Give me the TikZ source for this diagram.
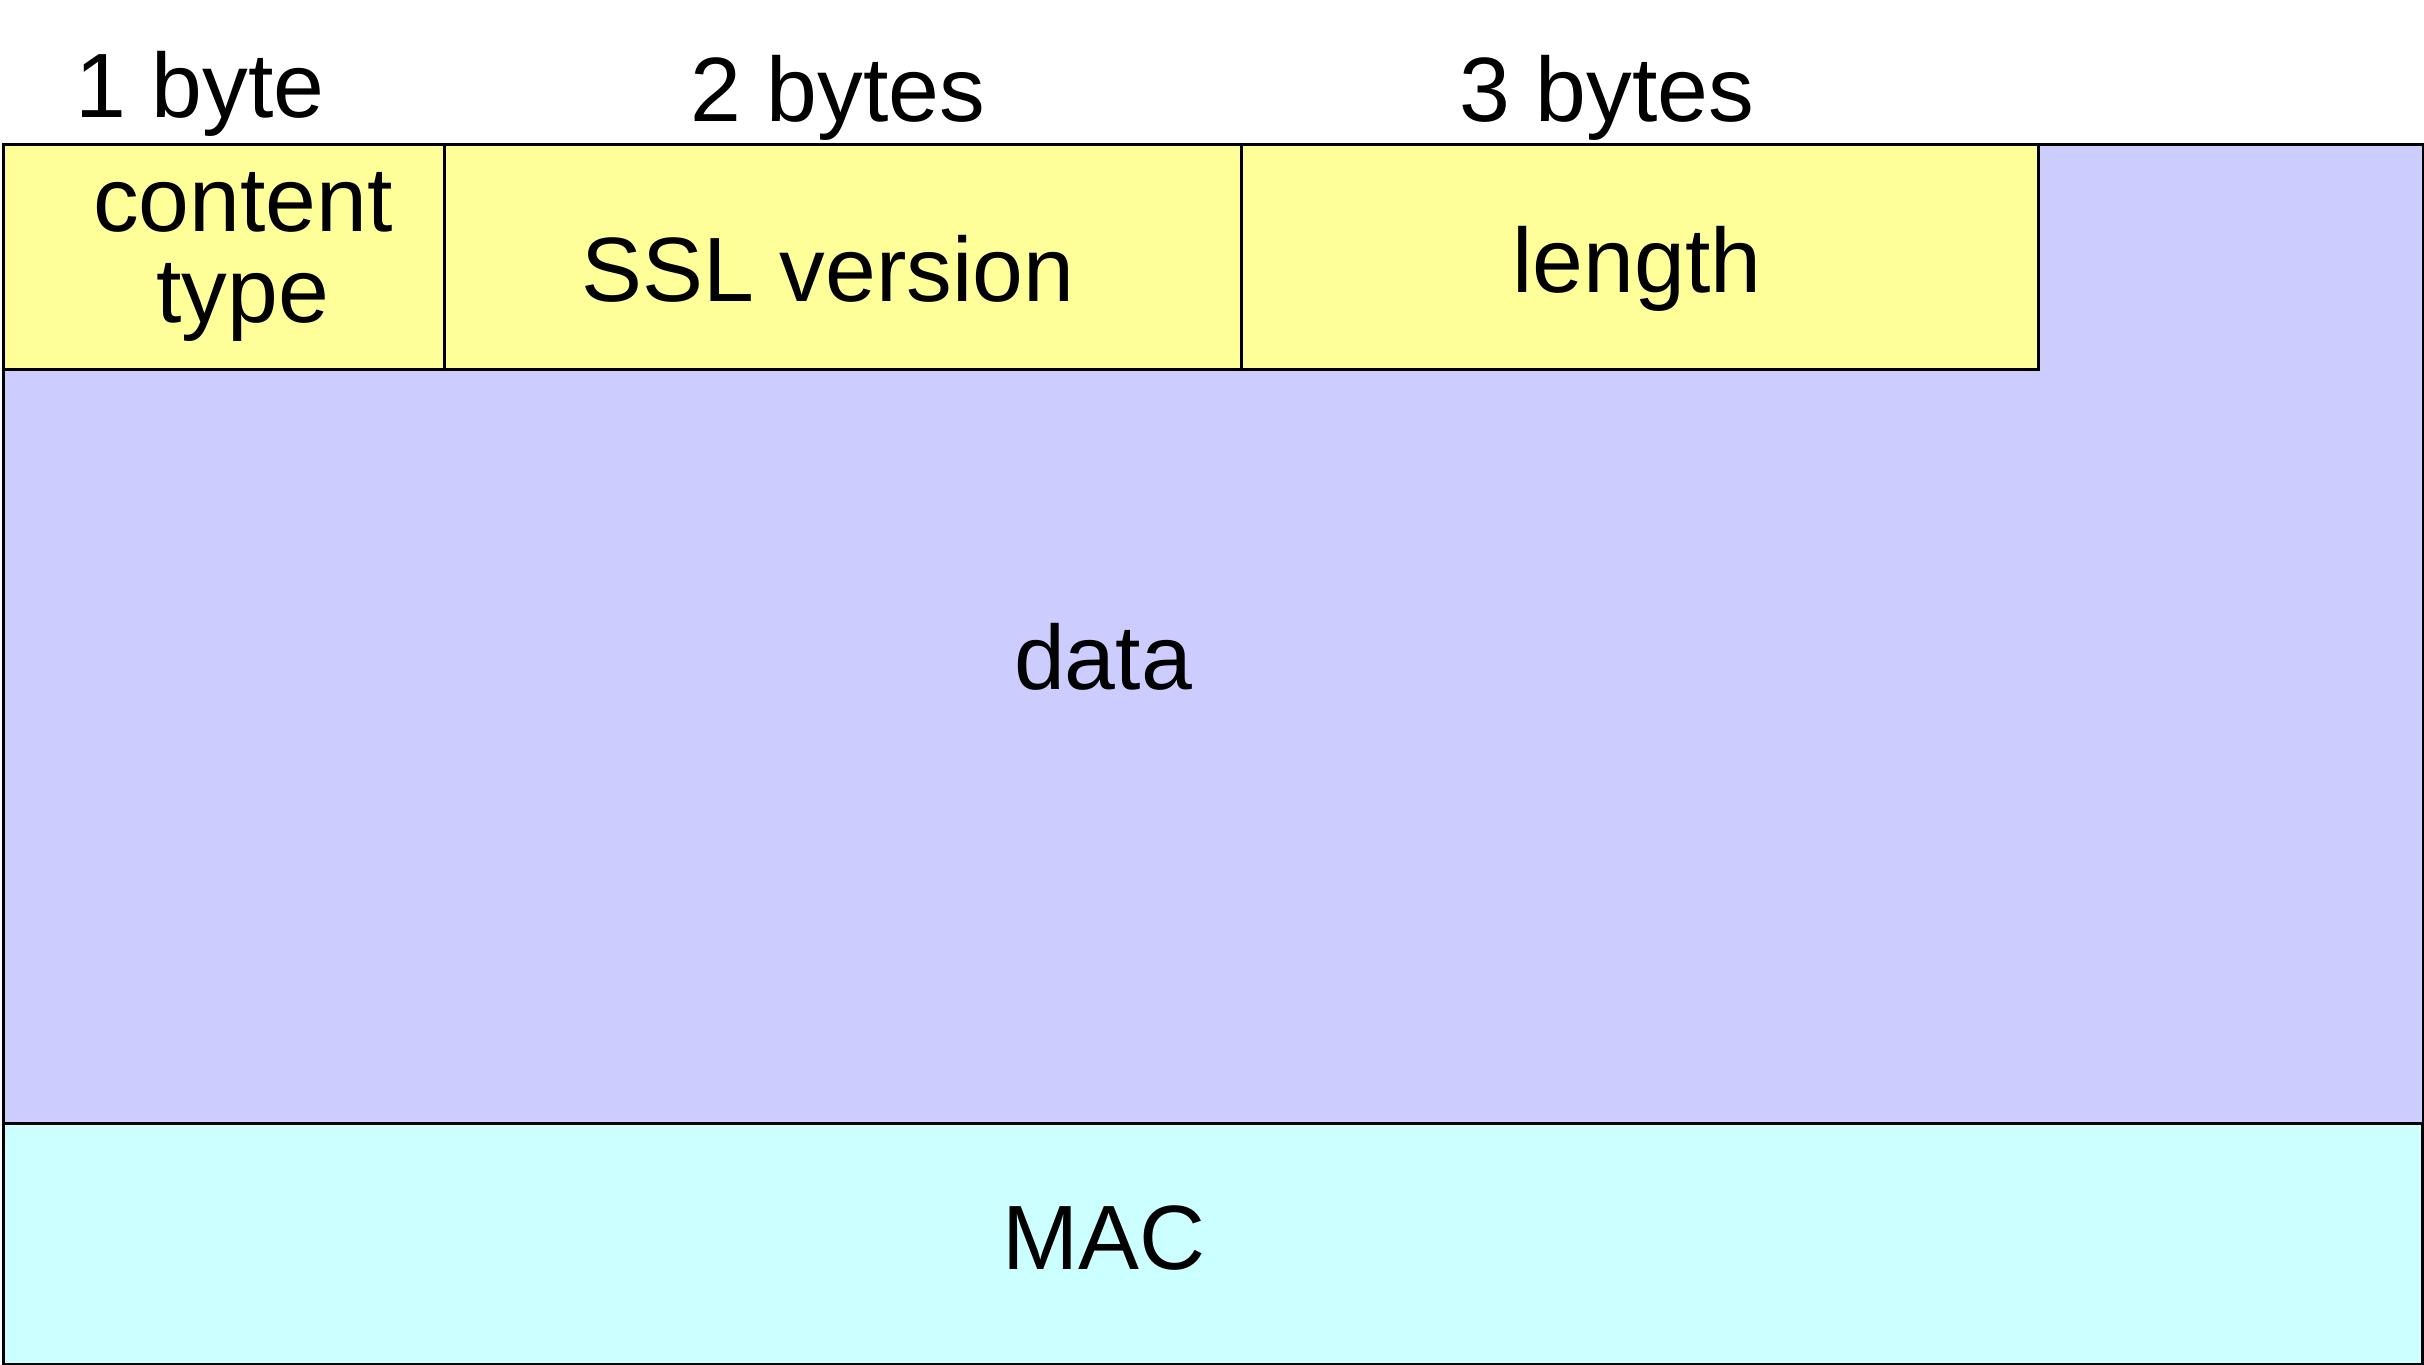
\documentclass[tikz,border=0pt]{standalone}
\usepackage{fontspec}
\setmainfont{Liberation Sans}
\usepackage{tikz}
\usetikzlibrary{positioning}
\definecolor{hdryellow}{HTML}{FFFF99}
\definecolor{datapurple}{HTML}{CCCCFF}
\definecolor{maccyan}{HTML}{CCFFFF}
\newcommand{\recfont}{\fontsize{26pt}{26pt}\selectfont}
\newcommand{\lowered}[1]{\raisebox{-0.12cm}[\height][\depth]{#1}}

\begin{document}
\begin{tikzpicture}[
  box/.style={draw, line width=0.8pt, inner sep=0pt, anchor=north west},
  field/.style={box, fill=hdryellow, minimum height=2.25cm, align=center, font=\recfont},
  sizelbl/.style={anchor=base, font=\recfont}
]
  \useasboundingbox (0,0) rectangle (24.24,-13.65);

  % Data and MAC
  \node[box, fill=datapurple, minimum width=24.2cm, minimum height=9.79cm] (data) at (0.02,-1.43) {};
  \node[box, fill=maccyan, minimum width=24.19cm, minimum height=2.41cm] (mac) at (0.02,-11.22) {};
  \node[font=\recfont] (datatxt) at (11.03,-6.57) {data};
  \node[font=\recfont] (mactxt) at (11.04,-12.38) {MAC};

  % Header fields
  \node[field, minimum width=4.41cm] (ctype) at (0.02,-1.43) {\hspace*{0.38cm}content\\\hspace*{0.38cm}type};
  \node[field, minimum width=7.97cm] (version) at (4.43,-1.43) {\lowered{SSL version\hspace*{0.3cm}}};
  \node[field, minimum width=7.97cm] (length) at (12.40,-1.43) {\lowered{length\hspace*{0.06cm}}};

  % Field sizes
  \node[sizelbl] (size1) at (2.00,-1.17) {1 byte};
  \node[sizelbl] (size2) at (8.38,-1.21) {2 bytes};
  \node[sizelbl] (size3) at (16.07,-1.21) {3 bytes};

\end{tikzpicture}
\end{document}
